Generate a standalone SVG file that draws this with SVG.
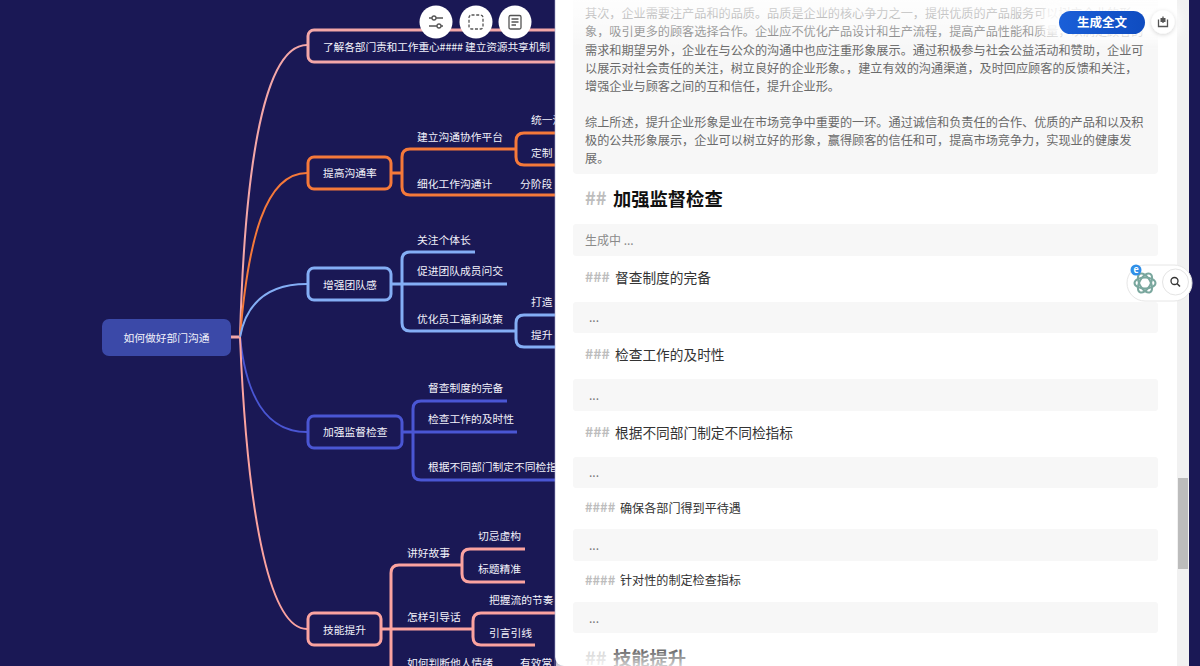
<svg xmlns="http://www.w3.org/2000/svg" width="1200" height="666" viewBox="0 0 1200 666">
<style>
text{font-family:"Noto Sans CJK SC","Noto Sans",sans-serif;dominant-baseline:central;transform:translateY(-1.2px)}
.m{font-size:10.75px;fill:#f2f2fa;transform:translateY(-0.4px)}
.c{fill:none;stroke-linecap:butt}
.thin{stroke-width:2}
.br{stroke-width:3}
.n{fill:#1a1855;stroke-width:3}
.pk{stroke:#f4a7a8}.or{stroke:#f5793a}.bl{stroke:#84aef5}.in{stroke:#4a56d4}.sa{stroke:#fba3a0}
.p{font-size:12.15px;fill:#6a6a6a}
.box{fill:#f7f7f7}
.h2{font-size:18.3px;font-weight:700;fill:#111}
.hm{fill:#bdbdbd;font-weight:700}
.s3{font-size:14px}
.s4{font-size:12.8px}
.h3{font-size:13.7px;fill:#333}
.h4{font-size:12.1px;fill:#333}
.dots{font-size:12px;fill:#777}
.ic{fill:none;stroke:#555;stroke-width:1.3}
</style>
<defs>
<linearGradient id="fadeTop" x1="0" y1="0" x2="0" y2="1"><stop offset="0" stop-color="#fff" stop-opacity=".85"/><stop offset=".7" stop-color="#fff" stop-opacity=".3"/><stop offset="1" stop-color="#fff" stop-opacity="0"/></linearGradient>
<linearGradient id="fadeBot" x1="0" y1="0" x2="0" y2="1"><stop offset="0" stop-color="#fff" stop-opacity="0"/><stop offset="1" stop-color="#fff" stop-opacity=".8"/></linearGradient>
<linearGradient id="btn" x1="0" y1="0" x2="1" y2="0"><stop offset="0" stop-color="#1a5fd8"/><stop offset="1" stop-color="#0f4cc0"/></linearGradient>
<filter id="soft" x="-30%" y="-60%" width="160%" height="220%"><feGaussianBlur stdDeviation="5"/></filter>
<filter id="sh" x="-40%" y="-40%" width="180%" height="180%"><feDropShadow dx="0" dy="1" stdDeviation="2" flood-color="#000" flood-opacity=".18"/></filter>
</defs>
<rect width="1200" height="666" fill="#1a1855"/>

<g id="connectors">
<path class="c br pk" d="M231 337H240"/>
<path class="c thin pk" d="M240 337C245 160 265 45 307 45"/>
<path class="c thin or" d="M240 337C248 240 265 173 307 173"/>
<path class="c thin bl" d="M240 337C246 305 265 284 307 284"/>
<path class="c thin in" d="M240 337C246 395 265 432 307 432"/>
<path class="c thin sa" d="M240 337C248 530 272 629 307 629"/>
<path class="c br or" d="M391 173H402M515 149H410Q402 149 402 157V187Q402 195 410 195H556"/>
<path class="c br or" d="M556 133H524Q516 133 516 141V157Q516 165 524 165H556"/>
<path class="c br bl" d="M391 284H507M475 252H410Q402 252 402 260V323Q402 331 410 331H516"/>
<path class="c br bl" d="M556 315H524Q516 315 516 323V339Q516 347 524 347H556"/>
<path class="c br in" d="M402 432H517M507 401H421Q413 401 413 409V472Q413 480 421 480H556"/>
<path class="c br sa" d="M381 629H473M462 565H399Q391 565 391 573V667"/>
<path class="c br sa" d="M525 549H470Q462 549 462 557V574Q462 582 470 582H525"/>
<path class="c br sa" d="M556 613H481Q473 613 473 621V637Q473 645 481 645H535"/>
</g>

<g id="root"><rect x="102" y="319" width="129" height="37" rx="7" fill="#3b49a8"/><text class="m" x="123.500" y="338">如何做好部门沟通</text></g>

<g id="n-dept"><rect class="n pk" x="308" y="30" width="270" height="32" rx="6"/><text class="m" x="323" y="47" textLength="227" lengthAdjust="spacing">了解各部门责和工作重心#### 建立资源共享机制</text></g>

<g id="n-comm"><rect class="n or" x="308" y="157" width="83" height="32" rx="6"/><text class="m" x="323" y="173">提高沟通率</text></g>
<g id="n-comm-1"><text class="m" x="417" y="137">建立沟通协作平台</text></g>
<g id="n-comm-2"><text class="m" x="417" y="184">细化工作沟通计</text></g>
<g id="n-comm-3"><text class="m" x="531" y="120">统一沟</text></g>
<g id="n-comm-4"><text class="m" x="531" y="153">定制</text></g>
<g id="n-comm-5"><text class="m" x="520" y="184">分阶段</text></g>

<g id="n-team"><rect class="n bl" x="308" y="268" width="83" height="32" rx="6"/><text class="m" x="323" y="285">增强团队感</text></g>
<g id="n-team-1"><text class="m" x="417" y="240">关注个体长</text></g>
<g id="n-team-2"><text class="m" x="417" y="271">促进团队成员问交</text></g>
<g id="n-team-3"><text class="m" x="417" y="319">优化员工福利政策</text></g>
<g id="n-team-4"><text class="m" x="531" y="302">打造</text></g>
<g id="n-team-5"><text class="m" x="531" y="335">提升</text></g>

<g id="n-sup"><rect class="n in" x="308" y="416" width="94" height="32" rx="6"/><text class="m" x="323" y="432">加强监督检查</text></g>
<g id="n-sup-1"><text class="m" x="428" y="388">督查制度的完备</text></g>
<g id="n-sup-2"><text class="m" x="428" y="419">检查工作的及时性</text></g>
<g id="n-sup-3"><text class="m" x="428" y="467">根据不同部门制定不同检指标</text></g>

<g id="n-skill"><rect class="n sa" x="308" y="613" width="73" height="32" rx="6"/><text class="m" x="323" y="630">技能提升</text></g>
<g id="n-skill-1"><text class="m" x="407" y="553">讲好故事</text></g>
<g id="n-skill-2"><text class="m" x="407" y="617">怎样引导话</text></g>
<g id="n-skill-3"><text class="m" x="407" y="663">如何判断他人情绪</text></g>
<g id="n-skill-4"><text class="m" x="478" y="536">切忌虚构</text></g>
<g id="n-skill-5"><text class="m" x="478" y="569">标题精准</text></g>
<g id="n-skill-6"><text class="m" x="489" y="600">把握流的节奏</text></g>
<g id="n-skill-7"><text class="m" x="489" y="633">引言引线</text></g>
<g id="n-skill-8"><text class="m" x="520" y="663">有效常</text></g>

<g id="toolbar">
<circle cx="436" cy="22" r="16.500" fill="#fff"/><circle cx="476" cy="22" r="16.500" fill="#fff"/><circle cx="515" cy="22" r="16.500" fill="#fff"/>
<path class="ic" d="M429 18H443M429 26H443"/><circle cx="434" cy="18" r="2" fill="#fff" stroke="#555" stroke-width="1.300"/><circle cx="439" cy="26" r="2" fill="#fff" stroke="#555" stroke-width="1.300"/>
<rect class="ic" x="469" y="15" width="14" height="14" rx="2.500" stroke-dasharray="3 1.700"/>
<rect class="ic" x="509" y="15.500" width="12" height="13.500" rx="1.500"/><path class="ic" d="M511.500 19H518.500M511.500 22H518.500M511.500 25H516"/>
</g>

<g id="panel">
<rect x="555" y="-10" width="634" height="676" rx="9" fill="#fff"/>
<rect x="554.500" y="0" width="1" height="666" fill="#a9a7cc" opacity=".6"/>
<rect x="1177" y="0" width="12" height="666" fill="#f1f1f1"/>
<rect x="1178" y="478" width="10" height="91" fill="#bcbcbc"/>
<rect class="box" x="573" y="-6" width="585" height="180" rx="4"/>
<text class="p" x="585" y="13.500">其次，企业需要注产品和的品质。品质是企业的核心争力之一，提供优质的产品服务可以树立企业的形</text>
<text class="p" x="585" y="32">象，吸引更多的顾客选择合作。企业应不优化产品设计和生产流程，提高产品性能和质量，以满足顾客的</text>
<text class="p" x="585" y="50.500">需求和期望另外，企业在与公众的沟通中也应注重形象展示。通过积极参与社会公益活动和赞助，企业可</text>
<text class="p" x="585" y="68.500">以展示对社会责任的关注，树立良好的企业形象。，建立有效的沟通渠道，及时回应顾客的反馈和关注，</text>
<text class="p" x="585" y="87">增强企业与顾客之间的互和信任，提升企业形。</text>
<text class="p" x="585" y="123">综上所述，提升企业形象是业在市场竞争中重要的一环。通过诚信和负责任的合作、优质的产品和以及积</text>
<text class="p" x="585" y="141">极的公共形象展示，企业可以树立好的形象，赢得顾客的信任和可，提高市场竞争力，实现业的健康发</text>
<text class="p" x="585" y="159">展。</text>
<text class="h2 hm" x="585" y="198">##</text><text class="h2" x="613" y="199">加强监督检查</text>
<rect class="box" x="573" y="224" width="585" height="32" rx="3"/><text class="dots" x="585" y="241" style="fill:#8a8a8a">生成中 ...</text>
<text class="hm s3" x="585" y="277">###</text><text class="h3" x="615" y="278">督查制度的完备</text>
<rect class="box" x="573" y="302" width="585" height="31" rx="3"/><text class="dots" x="589" y="318">...</text>
<text class="hm s3" x="585" y="354">###</text><text class="h3" x="615" y="355">检查工作的及时性</text>
<rect class="box" x="573" y="379" width="585" height="32" rx="3"/><text class="dots" x="589" y="396">...</text>
<text class="hm s3" x="585" y="432">###</text><text class="h3" x="615" y="433">根据不同部门制定不同检指标</text>
<rect class="box" x="573" y="457" width="585" height="31" rx="3"/><text class="dots" x="589" y="473">...</text>
<text class="hm s4" x="585" y="508">####</text><text class="h4" x="620" y="509">确保各部门得到平待遇</text>
<rect class="box" x="573" y="529" width="585" height="32" rx="3"/><text class="dots" x="589" y="546">...</text>
<text class="hm s4" x="585" y="581">####</text><text class="h4" x="620" y="581">针对性的制定检查指标</text>
<rect class="box" x="573" y="602" width="585" height="31" rx="3"/><text class="dots" x="589" y="619">...</text>
<text class="h2 hm" x="585" y="658">##</text><text class="h2" x="613" y="658">技能提升</text>
<rect x="556" y="0" width="621" height="48" fill="url(#fadeTop)"/>
<rect x="556" y="636" width="621" height="30" fill="url(#fadeBot)"/>
<rect x="1040" y="6" width="140" height="34" rx="14" fill="#fff" opacity=".85" filter="url(#soft)"/>
</g>

<g id="btn-generate">
<rect x="1059" y="11" width="86" height="23" rx="11.500" fill="url(#btn)"/>
<text x="1102" y="23" font-size="12.500" font-weight="700" fill="#fff" text-anchor="middle">生成全文</text>
</g>
<g id="btn-export">
<circle cx="1163" cy="22" r="11.500" fill="#fff" filter="url(#sh)"/>
<path d="M1158.500 19.500V26.500H1167.500V19.500M1163 16.500V23" fill="none" stroke="#555" stroke-width="1.300"/>
<rect x="1160.500" y="18" width="5" height="4" fill="#555"/>
</g>

<g id="widget">
<rect x="1127" y="265" width="65" height="36" rx="18" fill="#fff" stroke="#e6e6e6"/>
<g fill="none" stroke="#7aa79e" stroke-width="2">
<ellipse cx="1145" cy="283" rx="10.500" ry="5.500"/>
<ellipse cx="1145" cy="283" rx="10.500" ry="5.500" transform="rotate(60 1145 283)"/>
<ellipse cx="1145" cy="283" rx="10.500" ry="5.500" transform="rotate(120 1145 283)"/>
</g>
<circle cx="1136" cy="270" r="5.500" fill="#2f8fe8"/>
<text x="1136" y="270.500" font-size="9" font-weight="700" fill="#fff" text-anchor="middle">e</text>
<circle cx="1175.500" cy="282" r="13" fill="#fff" stroke="#e4e4e4"/>
<circle cx="1174.500" cy="281" r="3.500" fill="none" stroke="#333" stroke-width="1.300"/>
<path d="M1177 283.500L1180 286.500" stroke="#333" stroke-width="1.500"/>
</g>
</svg>
